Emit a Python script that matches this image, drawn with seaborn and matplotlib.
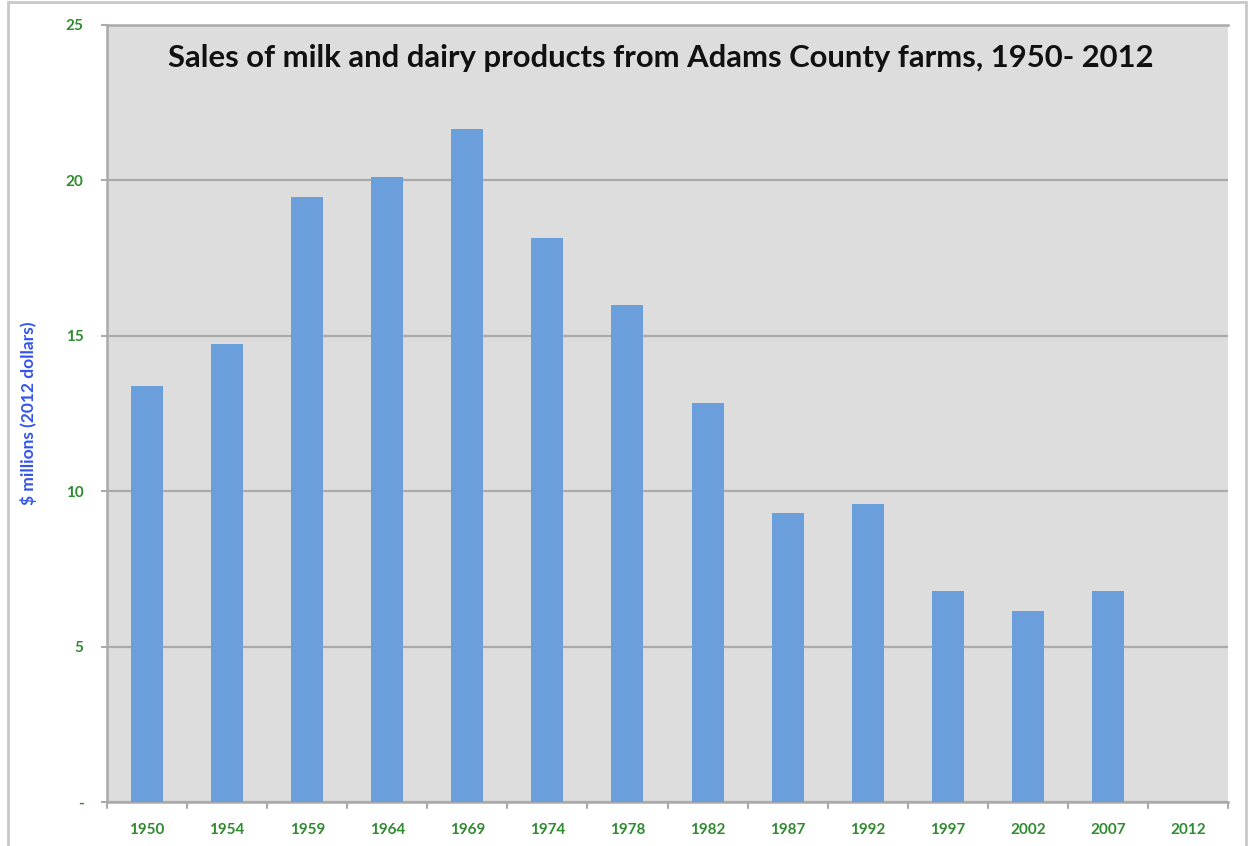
import matplotlib
matplotlib.use("Agg")
import matplotlib.pyplot as plt
import seaborn as sns
import pandas as pd
from matplotlib.patches import Rectangle

years = ["1950", "1954", "1959", "1964", "1969", "1974", "1978",
         "1982", "1987", "1992", "1997", "2002", "2007", "2012"]
sales = [13.4, 14.75, 19.45, 20.1, 21.65, 18.15, 16.0,
         12.85, 9.3, 9.6, 6.8, 6.15, 6.8, 0.0]
y_ticks = [0, 5, 10, 15, 20, 25]
y_tick_labels = ["-", "5", "10", "15", "20", "25"]

df = pd.DataFrame({"year": years, "sales": sales})

sns.set_theme(style="white")
plt.rcParams["font.family"] = ["Lato", "DejaVu Sans"]

fig = plt.figure(figsize=(12.51, 8.46), dpi=100)
ax = fig.add_axes([107 / 1251, 1 - 802 / 846, 1121 / 1251, 777 / 846])
ax.set_facecolor("#dddddd")

sns.barplot(data=df, x="year", y="sales", color="#6a9fdb", width=0.4,
            saturation=1, linewidth=0, edgecolor="none", ax=ax, zorder=3)

ax.set_ylim(0, 25)
ax.set_xlim(-0.5, len(years) - 0.5)
ax.set_yticks(y_ticks)
ax.set_yticklabels(y_tick_labels)
ax.yaxis.grid(True, color="#aaaaaa", linewidth=1.6, zorder=1)
ax.set_axisbelow(True)

ax.set_xticks(range(len(years)))
ax.set_xticklabels(years)
ax.tick_params(axis="x", length=0, pad=15, labelsize=11, labelcolor="#2e8b2e")
ax.tick_params(axis="y", left=True, length=4, width=1.5, color="#aaaaaa",
               pad=13, labelsize=11, labelcolor="#2e8b2e")
for lbl in ax.get_xticklabels() + ax.get_yticklabels():
    lbl.set_fontweight("bold")

# category separators on the x axis
for i in range(len(years) + 1):
    ax.plot([i - 0.5, i - 0.5], [0, -0.2], color="#aaaaaa", lw=1.5,
            clip_on=False, zorder=4)

for side in ["top", "left", "bottom"]:
    ax.spines[side].set_visible(True)
    ax.spines[side].set_color("#aaaaaa")
    ax.spines[side].set_linewidth(1.8)
ax.spines["right"].set_visible(False)

ax.set_xlabel("")
ax.set_ylabel("$ millions (2012 dollars)", color="#3355ee", fontsize=12.5,
              fontweight="bold")
ax.yaxis.set_label_coords(-0.0625, 0.5)

ax.text(0.494, 0.958, "Sales of milk and dairy products from Adams County farms, 1950- 2012",
        transform=ax.transAxes, ha="center", va="center", fontsize=22.3,
        fontweight="bold", color="#111111")

# outer chart frame
fig.patches.append(Rectangle((8 / 1251, -0.01), (1246 - 8) / 1251, 1 - 2 / 846 + 0.01,
                             transform=fig.transFigure, fill=False,
                             edgecolor="#c8c8c8", linewidth=2))

fig.savefig("out.png", dpi=100)
